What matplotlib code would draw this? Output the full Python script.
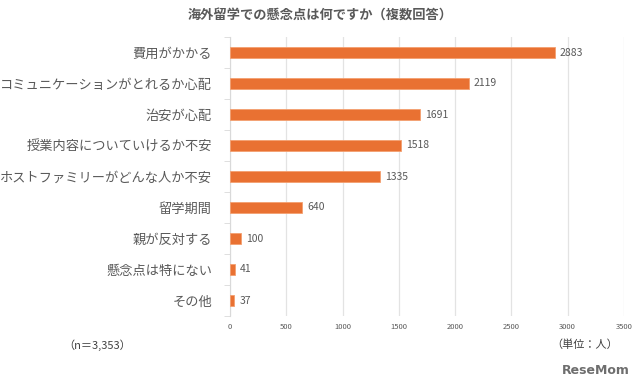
import matplotlib.pyplot as plt

plt.rcParams["font.family"] = ["Noto Sans CJK JP", "DejaVu Sans"]

# -----------------------------
# Data
# -----------------------------
categories = [
    "費用がかかる",
    "コミュニケーションがとれるか心配",
    "治安が心配",
    "授業内容についていけるか不安",
    "ホストファミリーがどんな人か不安",
    "留学期間",
    "親が反対する",
    "懸念点は特にない",
    "その他",
]
counts = [2883, 2119, 1691, 1518, 1335, 640, 100, 41, 37]
x_ticks = [0, 500, 1000, 1500, 2000, 2500, 3000, 3500]

# -----------------------------
# Plot
# -----------------------------
bar_color = "#E97132"
text_color = "#595959"

fig = plt.figure(figsize=(6.4, 3.92), dpi=100)
ax = fig.add_axes([230 / 640, 1 - 316 / 392, 394 / 640, 279 / 392])

y_pos = list(range(len(categories)))
ax.barh(y_pos, counts, height=0.36, color=bar_color,
        edgecolor="#F4A070", linewidth=0.6, zorder=3)

for y, v in zip(y_pos, counts):
    ax.text(v + 45, y, str(v), va="center", ha="left",
            fontsize=7.5, color=text_color)

ax.set_ylim(len(categories) - 0.5, -0.5)
ax.set_xlim(0, 3500)
ax.set_xticks(x_ticks)
ax.set_xticklabels([str(t) for t in x_ticks], fontsize=5.5, color=text_color)
ax.tick_params(axis="x", length=0, pad=5)

ax.set_yticks(y_pos)
ax.set_yticklabels(categories, fontsize=9.5, color=text_color)
ax.tick_params(axis="y", length=0, pad=13)
ax.set_yticks([i + 0.5 for i in range(-1, len(categories))], minor=True)
ax.tick_params(axis="y", which="minor", length=4, color="#D9D9D9")

ax.grid(axis="x", color="#E3E3E3", linewidth=0.9, zorder=0)
for side in ["top", "right", "bottom"]:
    ax.spines[side].set_visible(False)
ax.spines["left"].set_color("#D9D9D9")

# -----------------------------
# Title / notes
# -----------------------------
fig.text(0.5, 1 - 15 / 392, "海外留学での懸念点は何ですか（複数回答）",
         ha="center", va="center", fontsize=9.5, fontweight="bold",
         color=text_color)
fig.text(63 / 640, 1 - 345 / 392, "（n＝3,353）", ha="left", va="center",
         fontsize=8, color="#404040")
fig.text(618 / 640, 1 - 345 / 392, "（単位：人）", ha="right", va="center",
         fontsize=8, color="#404040")
fig.text(630 / 640, 1 - 370 / 392, "ReseMom", ha="right", va="center",
         fontsize=9, fontweight="bold", color="#6E6E6E",
         family="DejaVu Sans")

fig.savefig("out.png", dpi=100, facecolor="white")
